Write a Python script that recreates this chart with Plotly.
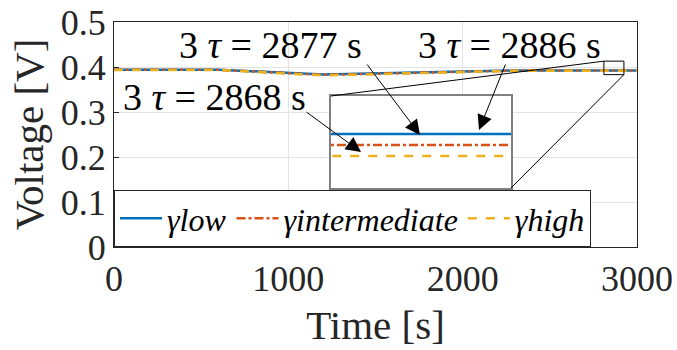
import plotly.graph_objects as go

# ---------------- data ----------------
time_s = [0, 600, 1200, 2300, 2810, 3000]
v_low = [0.3940, 0.3940, 0.3835, 0.3922, 0.3925, 0.3925]
v_intermediate = [0.3937, 0.3937, 0.3825, 0.3919, 0.3922, 0.3922]
v_high = [0.3934, 0.3934, 0.3812, 0.3916, 0.3919, 0.3919]

series_names = ["<i>γlow</i>", "<i>γintermediate</i>", "<i>γhigh</i>"]
series_colors = ["#0072BD", "#D95319", "#EDB120"]
series_dash = ["solid", "dashdot", "dash"]

x_ticks = [0, 1000, 2000, 3000]
x_ticklabels = ["0", "1000", "2000", "3000"]
y_ticks = [0, 0.1, 0.2, 0.3, 0.4, 0.5]
y_ticklabels = ["0", "0.1", "0.2", "0.3", "0.4", "0.5"]

tau_labels = ["3 <i>τ</i> = 2868 s", "3 <i>τ</i> = 2877 s", "3 <i>τ</i> = 2886 s"]

inset_xrange = [2810, 2925]
inset_yrange = [0.391027, 0.393537]

FONT = "Liberation Serif, Times New Roman, serif"

fig = go.Figure()
for vals, name, col, dash in zip([v_low, v_intermediate, v_high], series_names, series_colors, series_dash):
    fig.add_trace(go.Scatter(x=time_s, y=vals, mode="lines", name=name,
                             line=dict(color=col, width=2.5, dash=dash)))
for vals, name, col, dash in zip([v_low, v_intermediate, v_high], series_names, series_colors, series_dash):
    fig.add_trace(go.Scatter(x=time_s, y=vals, mode="lines", name=name, showlegend=False,
                             xaxis="x2", yaxis="y2",
                             line=dict(color=col, width=2.5, dash=dash)))

L, R, T, B = 114, 40, 22, 103
W, H = 677, 350
pw, ph = W - L - R, H - T - B

def px2paper_x(px):
    return (px - L) / pw

def py2paper_y(py):
    return (H - B - py) / ph

ix0, ix1 = px2paper_x(331), px2paper_x(511)
iy0, iy1 = py2paper_y(188), py2paper_y(96)

axis_common = dict(showline=True, mirror=True, linecolor="#262626", linewidth=1,
                   ticks="inside", ticklen=5, tickcolor="#262626", automargin=False,
                   showgrid=True, gridcolor="#e3e3e3", gridwidth=1, zeroline=False,
                   tickfont=dict(family=FONT, size=36, color="#262626"))

fig.update_layout(
    width=W, height=H,
    margin=dict(l=L, r=R, t=T, b=B),
    paper_bgcolor="white", plot_bgcolor="white",
    font=dict(family=FONT, color="#262626"),
    xaxis=dict(range=[0, 3000], tickvals=x_ticks, ticktext=x_ticklabels,
               title=dict(text="Time [s]", font=dict(family=FONT, size=41, color="#262626"), standoff=12),
               **axis_common),
    yaxis=dict(range=[0, 0.5], tickvals=y_ticks, ticktext=y_ticklabels,
               title=dict(text="Voltage [V]", font=dict(family=FONT, size=41, color="#262626"), standoff=4),
               **axis_common),
    xaxis2=dict(domain=[ix0, ix1], anchor="y2", range=inset_xrange, showticklabels=False,
                showline=True, mirror=True, linecolor="#808080", linewidth=1.5, automargin=False,
                ticks="", showgrid=False, zeroline=False),
    yaxis2=dict(domain=[iy0, iy1], anchor="x2", range=inset_yrange, showticklabels=False,
                showline=True, mirror=True, linecolor="#808080", linewidth=1.5, automargin=False,
                ticks="", showgrid=False, zeroline=False),
    legend=dict(orientation="h", x=0, xanchor="left", y=0, yanchor="bottom",
                bgcolor="white", bordercolor="#262626", borderwidth=1,
                font=dict(family=FONT, size=32, color="black"),
                itemwidth=42, tracegroupgap=0),
    showlegend=True,
)

# zoom rectangle & connector lines (main data coords)
rx0, rx1, ry0, ry1 = 2810, 2925, 0.383, 0.413
fig.add_shape(type="rect", x0=rx0, x1=rx1, y0=ry0, y1=ry1, xref="x", yref="y",
              line=dict(color="black", width=1))
ix0_t, ix1_t = ix0 * 3000, ix1 * 3000
iy0_v, iy1_v = iy0 * 0.5, iy1 * 0.5
fig.add_shape(type="line", x0=rx0, y0=ry1, x1=ix0_t, y1=iy1_v, xref="x", yref="y",
              line=dict(color="black", width=1))
fig.add_shape(type="line", x0=rx1, y0=ry0, x1=ix1_t, y1=iy0_v, xref="x", yref="y",
              line=dict(color="black", width=1))

# text labels
text_pos = [(214, 97), (270, 45), (509, 45)]
for txt, (px, py) in zip(tau_labels, text_pos):
    fig.add_annotation(text=txt, x=px2paper_x(px), y=py2paper_y(py), xref="paper", yref="paper",
                       showarrow=False, xanchor="center", yanchor="middle",
                       font=dict(family=FONT, size=38, color="black"))

# arrows: tips in inset data coordinates, tails in pixel offsets
def inset_x(px):
    return inset_xrange[0] + (px - 331) / 180 * (inset_xrange[1] - inset_xrange[0])

def inset_y(py):
    return inset_yrange[1] - (py - 96) / 92 * (inset_yrange[1] - inset_yrange[0])

arrows = [((361, 152), (305, 111)), ((420, 135), (366, 63)), ((479, 130), (506, 63))]
for (tx, ty), (sx, sy) in arrows:
    fig.add_annotation(x=inset_x(tx), y=inset_y(ty), xref="x2", yref="y2",
                       ax=sx - tx, ay=sy - ty, axref="pixel", ayref="pixel",
                       text="", showarrow=True, arrowhead=2, arrowsize=3, arrowwidth=1,
                       arrowcolor="black")

fig.write_html("out.html", config={"displayModeBar": False},
               post_script="document.body.style.margin='0px';document.body.style.overflow='hidden';")
